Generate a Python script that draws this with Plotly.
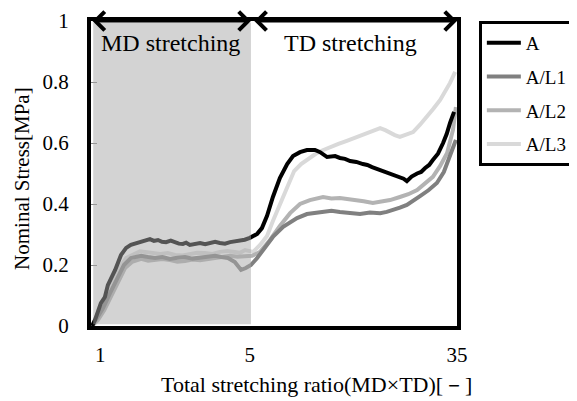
import plotly.graph_objects as go

# x positions along the stretching process (axis units 0-100; ticks labelled with total stretching ratio)
tick_pos = [2.5, 43.4, 100]
tick_text = ["1", "5", "35"]
md_end = 43.7  # boundary between MD and TD stretching

series_names = ["A", "A/L1", "A/L2", "A/L3"]
series_colors = ["#000000", "#808080", "#b3b3b3", "#d9d9d9"]

x_A = [0.3, 1.1, 2.7, 3.8, 4.6, 6.6, 8.2, 9.6, 10.9, 12.3, 13.7, 15.0, 16.1, 17.2, 18.3, 19.4, 20.5, 21.8,
       23.0, 24.0, 25.1, 26.0, 27.0, 28.4, 29.8, 31.2, 32.5, 33.9, 35.2, 36.6, 38.0, 39.3, 40.7, 42.0, 43.4,
       45.4, 46.7, 48.1, 49.7, 51.6, 53.6, 55.2, 57.1, 59.0, 61.2, 62.6, 64.5, 66.7, 68.0, 69.4, 70.8, 72.5,
       74.3, 75.5, 76.8, 78.0, 79.0, 80.4, 81.7, 83.0, 84.4, 85.4, 86.3, 87.6, 89.1, 90.2, 91.3, 92.4, 93.4,
       94.8, 96.2, 97.2, 98.1, 99.2]
y_A = [0.0, 0.02, 0.075, 0.095, 0.134, 0.184, 0.233, 0.256, 0.266, 0.272, 0.275, 0.282, 0.285, 0.279, 0.282,
       0.276, 0.275, 0.280, 0.275, 0.270, 0.269, 0.273, 0.266, 0.270, 0.272, 0.268, 0.272, 0.276, 0.272, 0.270,
       0.275, 0.278, 0.279, 0.283, 0.289, 0.302, 0.321, 0.361, 0.423, 0.485, 0.531, 0.557, 0.570, 0.577, 0.577,
       0.570, 0.554, 0.557, 0.551, 0.548, 0.541, 0.538, 0.531, 0.528, 0.521, 0.516, 0.511, 0.504, 0.498, 0.494,
       0.489, 0.483, 0.475, 0.490, 0.500, 0.505, 0.518, 0.528, 0.544, 0.565, 0.600, 0.630, 0.666, 0.702]

x_L1 = [0.3, 1.6, 3.3, 5.2, 7.1, 9.0, 10.9, 12.3, 13.7, 15.6, 17.5, 19.5, 21.6, 23.6, 25.7, 27.7, 29.8, 31.8,
        33.9, 35.6, 37.4, 39.3, 41.0, 42.3, 43.7, 45.4, 47.5, 49.7, 52.5, 56.3, 59.0, 61.2, 63.4, 65.7, 68.0,
        70.8, 73.5, 76.2, 79.0, 80.8, 82.5, 84.4, 86.3, 88.1, 89.9, 92.2, 94.5, 96.4, 98.1, 99.7]
y_L1 = [0.0, 0.026, 0.059, 0.108, 0.157, 0.200, 0.223, 0.228, 0.230, 0.226, 0.223, 0.226, 0.220, 0.224, 0.226,
        0.221, 0.223, 0.227, 0.230, 0.226, 0.223, 0.210, 0.184, 0.190, 0.200, 0.223, 0.259, 0.292, 0.325, 0.354,
        0.367, 0.370, 0.374, 0.378, 0.374, 0.371, 0.367, 0.372, 0.370, 0.374, 0.380, 0.388, 0.397, 0.410, 0.426,
        0.445, 0.469, 0.505, 0.561, 0.610]

x_L2 = [0.3, 1.9, 3.6, 5.5, 7.4, 9.3, 11.2, 12.5, 13.7, 15.6, 17.5, 19.5, 21.6, 23.6, 25.7, 27.7, 29.8, 31.8,
        33.9, 36.0, 38.0, 40.0, 42.1, 44.0, 46.2, 48.9, 51.6, 54.4, 57.1, 59.8, 63.4, 65.7, 68.0, 70.0, 72.1,
        74.5, 77.0, 79.4, 81.7, 84.4, 86.7, 89.1, 91.2, 93.4, 95.4, 97.3, 98.9, 99.7]
y_L2 = [0.0, 0.020, 0.052, 0.098, 0.148, 0.190, 0.210, 0.216, 0.220, 0.214, 0.216, 0.220, 0.216, 0.211, 0.213,
        0.218, 0.216, 0.220, 0.223, 0.226, 0.230, 0.227, 0.230, 0.230, 0.243, 0.282, 0.328, 0.370, 0.400, 0.413,
        0.423, 0.418, 0.420, 0.417, 0.413, 0.409, 0.403, 0.407, 0.413, 0.423, 0.432, 0.446, 0.465, 0.489, 0.525,
        0.567, 0.643, 0.718]

x_L3 = [0.3, 1.6, 3.3, 5.2, 7.4, 9.6, 12.0, 13.4, 14.8, 16.8, 18.9, 21.0, 23.0, 25.0, 27.0, 29.0, 31.1, 33.2,
        35.2, 37.2, 39.3, 40.7, 42.1, 43.2, 44.3, 46.2, 48.1, 49.7, 51.6, 53.6, 55.5, 57.4, 59.0, 61.7, 63.5,
        65.3, 67.6, 69.9, 72.6, 75.4, 77.2, 79.0, 80.4, 81.7, 83.0, 84.4, 86.2, 88.0, 89.9, 91.8, 93.6, 95.4,
        96.8, 98.1, 99.5]
y_L3 = [0.0, 0.033, 0.079, 0.131, 0.184, 0.223, 0.239, 0.245, 0.243, 0.238, 0.236, 0.239, 0.233, 0.231, 0.236,
        0.240, 0.239, 0.236, 0.243, 0.246, 0.243, 0.240, 0.249, 0.246, 0.243, 0.266, 0.295, 0.344, 0.400, 0.459,
        0.508, 0.531, 0.544, 0.567, 0.577, 0.587, 0.597, 0.607, 0.620, 0.633, 0.641, 0.649, 0.642, 0.633, 0.626,
        0.620, 0.628, 0.636, 0.660, 0.685, 0.713, 0.741, 0.768, 0.797, 0.833]

xs = [x_A, x_L1, x_L2, x_L3]
ys = [y_A, y_L1, y_L2, y_L3]

FONT = "Times New Roman"

fig = go.Figure()
# draw lighter series first so black A sits on top
for i in [3, 2, 1, 0]:
    fig.add_trace(go.Scatter(
        x=xs[i], y=ys[i], mode="lines", name=series_names[i],
        line=dict(color=series_colors[i], width=4),
        legendgroup=series_names[i], legendrank=i + 1,
    ))

# grey MD-stretching region (drawn over the curves, semi-transparent)
fig.add_shape(type="rect", xref="x", yref="y", x0=0.6, x1=md_end, y0=0.006, y1=0.995,
              fillcolor="rgba(168,168,168,0.5)", line=dict(width=0), layer="above")

# double-headed arrows along the top
for (a, b) in [(0, md_end), (md_end + 0.5, 100)]:
    fig.add_annotation(x=b, y=1, ax=a, ay=1, xref="x", yref="y", axref="x", ayref="y",
                       text="", showarrow=True, arrowside="end+start",
                       arrowhead=4, startarrowhead=4, arrowwidth=3, arrowsize=1.2,
                       startarrowsize=1.2, arrowcolor="black")

fig.add_annotation(x=21.6, y=0.928, xref="x", yref="y", text="MD stretching", showarrow=False,
                   font=dict(family=FONT, size=24, color="black"))
fig.add_annotation(x=70.8, y=0.928, xref="x", yref="y", text="TD stretching", showarrow=False,
                   font=dict(family=FONT, size=24, color="black"))

# axis titles
fig.add_annotation(x=0.617, y=-0.193, xref="paper", yref="paper", text="Total stretching ratio(MD×TD)[－]",
                   xanchor="center", yanchor="middle",
                   showarrow=False, font=dict(family=FONT, size=22, color="black"))
fig.add_annotation(x=-0.189, y=0.485, xref="paper", yref="paper", text="Nominal Stress[MPa]", textangle=-90,
                   xanchor="center", yanchor="middle",
                   showarrow=False, font=dict(family=FONT, size=21, color="black"))

fig.update_xaxes(range=[0, 100], tickvals=tick_pos, ticktext=tick_text, showgrid=False, zeroline=False,
                 showline=True, linecolor="black", linewidth=4, mirror=True, ticks="",
                 ticklabelstandoff=7, tickfont=dict(family=FONT, size=21, color="black"))
fig.update_yaxes(range=[0, 1], tickvals=[0, 0.2, 0.4, 0.6, 0.8, 1], ticktext=["0", "0.2", "0.4", "0.6", "0.8", "1"],
                 showgrid=False, zeroline=False, showline=True, linecolor="black", linewidth=4, mirror=True,
                 ticks="inside", ticklen=6, tickwidth=1, tickcolor="#888888",
                 ticklabelstandoff=14, tickfont=dict(family=FONT, size=21, color="black"))

# page body has an 8px default margin, so the figure is shifted and sized accordingly
fig.update_layout(
    width=569, height=393,
    margin=dict(l=83, r=120, t=13, b=75, autoexpand=False),
    paper_bgcolor="white", plot_bgcolor="white",
    font=dict(family=FONT, color="black"),
    showlegend=True,
    legend=dict(x=1.322, y=1, xanchor="right", yanchor="top", bgcolor="white",
                bordercolor="black", borderwidth=3, tracegroupgap=6, itemwidth=34,
                font=dict(family=FONT, size=19, color="black")),
)

fig.write_html("out.html")
